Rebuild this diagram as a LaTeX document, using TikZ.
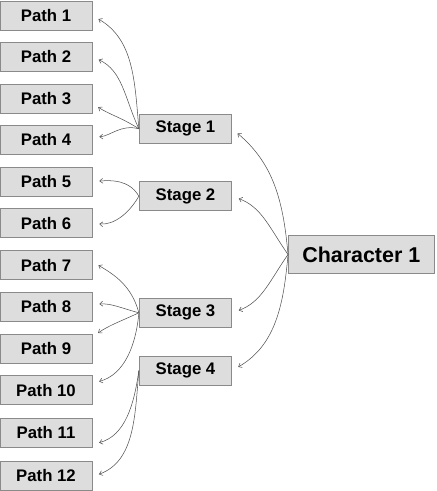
\documentclass[tikz,border=0pt]{standalone}
\usepackage{fontspec}
\setmainfont{Liberation Sans}
\usetikzlibrary{arrows.meta}
\definecolor{boxfill}{HTML}{DDDDDD}
\definecolor{boxline}{HTML}{8A8A8A}
\definecolor{arrowline}{HTML}{505050}
\begin{document}
\begin{tikzpicture}[x=0.03cm, y=-0.03cm,
		pathbox/.style={draw=boxline, fill=boxfill, line width=0.6pt, minimum width=78.5pt, minimum height=24.8pt, inner sep=0pt, font=\fontsize{14.3}{16}\selectfont\bfseries},
		stagebox/.style={pathbox, minimum width=79pt},
		charbox/.style={pathbox, minimum width=124.5pt, minimum height=33pt, font=\fontsize{18.3}{21}\selectfont\bfseries},
		link/.style={draw=arrowline, line width=0.45pt, -{Straight Barb[length=2.6pt, width=4.2pt]}, shorten >=6pt}]
		\useasboundingbox (0,0) rectangle (436,491);
		
		\node[pathbox] (p1) at (46,15.5) {Path 1};
		\node[pathbox] (p2) at (46,56.7) {Path 2};
		\node[pathbox] (p3) at (46,98.7) {Path 3};
		\node[pathbox] (p4) at (46,139.8) {Path 4};
		\node[pathbox] (p5) at (46,181.7) {Path 5};
		\node[pathbox] (p6) at (46,223.3) {Path 6};
		\node[pathbox] (p7) at (46,265.3) {Path 7};
		\node[pathbox] (p8) at (46,307) {Path 8};
		\node[pathbox] (p9) at (46,348.7) {Path 9};
		\node[pathbox] (p10) at (46,390.3) {Path 10};
		\node[pathbox] (p11) at (46,432.8) {Path 11};
		\node[pathbox] (p12) at (46,475.5) {Path 12};
		
		\node[stagebox] (s1) at (185.5,128.8) {Stage 1};
		\node[stagebox] (s2) at (185.5,196.2) {Stage 2};
		\node[stagebox] (s3) at (185.5,312.8) {Stage 3};
		\node[stagebox] (s4) at (185.5,370.5) {Stage 4};
		
		\node[charbox] (c1) at (361.3,254.5) {Character 1};
		
		\draw[link] (c1.west) to[out=95, in=-40] (s1.east);
		\draw[link] (c1.west) to[out=125, in=-20] (s2.east);
		\draw[link] (c1.west) to[out=235, in=20] (s3.east);
		\draw[link] (c1.west) to[out=265, in=30] (s4.east);
		
		\draw[link] (s1.west) to[out=95, in=-30] (p1.east);
		\draw[link] (s1.west) to[out=115, in=-25] (p2.east);
		\draw[link] (s1.west) to[out=147, in=-33] ([yshift=-4pt]p3.east);
		\draw[link] (s1.west) to[out=165, in=5] ([yshift=2pt]p4.east);
		
		\draw[link] (s2.west) to[out=120, in=5] (p5.east);
		\draw[link] (s2.west) to[out=240, in=-5] (p6.east);
		
		\draw[link] (s3.west) to[out=105, in=-30] ([yshift=3pt]p7.east);
		\draw[link] (s3.west) to[out=165, in=5] ([yshift=2pt]p8.east);
		\draw[link] (s3.west) to[out=205, in=35] ([yshift=10pt]p9.east);
		\draw[link] (s3.west) to[out=265, in=15] ([yshift=6pt]p10.east);
		
		\draw[link] (s4.west) to[out=262, in=15] ([yshift=-10pt]p11.east);
		\draw[link] (s4.west) to[out=265, in=20] ([yshift=-1pt]p12.east);
		
	\end{tikzpicture}
\end{document}
